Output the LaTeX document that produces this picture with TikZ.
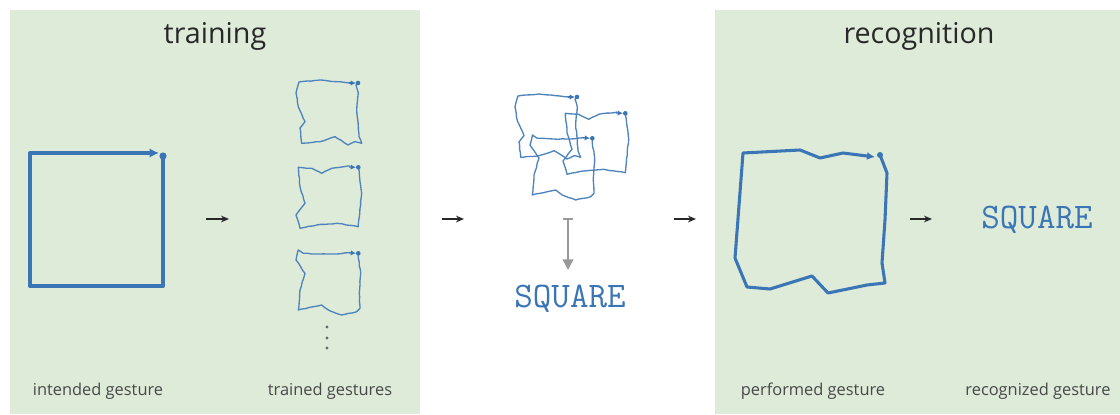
\documentclass[tikz,border=0pt]{standalone}
\usepackage{fontspec}
\setmainfont{Open Sans}
\usetikzlibrary{arrows.meta,decorations.pathmorphing}

\definecolor{panelgreen}{RGB}{222,235,217}
\definecolor{gestblue}{RGB}{58,117,181}
\definecolor{textgray}{RGB}{40,40,40}

\tikzset{
  panel/.style={fill=panelgreen, draw=none},
  title/.style={font=\fontsize{21.5}{24}\selectfont, text=textgray, anchor=base},
  caption/.style={font=\fontsize{12.3}{14}\selectfont, text=textgray!85!white, anchor=base},
  word/.style={font=\ttfamily\fontsize{27}{29}\selectfont, text=gestblue, anchor=base},
  stagearrow/.style={-{Stealth[length=6pt,width=5pt]}, line width=0.9pt, textgray},
  wavy/.style={draw=gestblue!90!white, line width=1pt, line join=round,
    decorate, decoration={random steps, segment length=3pt, amplitude=0.25pt}},
  tip/.style={gestblue, line width=0.9pt, -{Latex[length=4pt,width=4pt]}},
  % the three trained squares, drawn from the start dot
  pics/trainone/.style={code={
    \draw[wavy] (63,3) -- (61,5) -- (63.3,13) -- (61.7,30) -- (64,56.7) -- (66.7,63.3)
      -- (60,61.7) -- (53,65) -- (40,56.7) -- (25,61.7) -- (6.7,63.3)
      -- (5,48) -- (10,41.7) -- (3.3,26.7) -- (1,13) -- (4,2) -- (25,0) -- (41.7,1.7) -- (55,3);
    \draw[tip] (54,3) -- (61,3);
    \fill[gestblue] (63,3) circle (2.3);
  }},
  pics/traintwo/.style={code={
    \draw[wavy] (63.3,2.3) -- (64.3,8.3) -- (66.7,28.3) -- (64.3,51.7) -- (63.3,61.7)
      -- (41.7,58.3) -- (21.7,60) -- (5,63.3) -- (1,50) -- (10,38.3) -- (5,21.7) -- (3.3,2.3)
      -- (16.7,3.3) -- (26.7,8.3) -- (36.7,3.3) -- (55,1);
    \draw[tip] (54,2) -- (61,2.3);
    \fill[gestblue] (63.3,2.3) circle (2.3);
  }},
  pics/trainthree/.style={code={
    \draw[wavy] (63.3,5.3) -- (63.3,10) -- (65.7,25) -- (64.3,45) -- (65,60.3) -- (61.7,63.7)
      -- (46.7,67) -- (33.3,62) -- (26.7,57) -- (18.3,58.7) -- (3.3,62)
      -- (5,42) -- (10,25.3) -- (1,12) -- (3.3,2) -- (8.3,5.3) -- (25,6) -- (41.7,6) -- (55,4.7);
    \draw[tip] (54,4.7) -- (61,5.3);
    \fill[gestblue] (63.3,5.3) circle (2.3);
  }},
}

\begin{document}
\begin{tikzpicture}[x=0.75pt, y=-0.75pt]
  \pgfmathsetseed{11}
  \useasboundingbox (0,0) rectangle (1120,414);

  % Paneles
  \fill[panel] (10,10) rectangle (420,414);
  \fill[panel] (715,10) rectangle (1120,414);

  % Titulos
  \node[title] (trainTitle) at (215,43) {training};
  \node[title] (recogTitle) at (919,43) {recognition};

  % Gesto ideal
  \draw[gestblue, line width=3pt, line join=round, -{Latex[length=7pt,width=7pt]}]
    (163,156) -- (163,286) -- (30,286) -- (30,153) -- (159,153);
  \fill[gestblue] (163,156) circle (3.6);

  % Gestos entrenados
  \pic at (295,80) {trainone};
  \pic at (295,165) {traintwo};
  \pic at (295,248) {trainthree};
  \foreach \y in {327,338,348}
    \fill[textgray!70!white] (327,\y) circle (1.6);

  % Superpuestos
  \pic at (514,94) {trainone};
  \pic at (562,111) {traintwo};
  \pic at (529,133) {trainthree};
  \node[word] (midWord) at (570,307) {SQUARE};
  \coordinate (voteStart) at (568,218);
  \coordinate (voteEnd) at (568,270);
  \draw[black!40, line width=1.2pt, {Bar[width=8pt]}-{Triangle[length=8pt,width=8pt]}] (voteStart) -- (voteEnd);

  % Gesto realizado
  \draw[gestblue, line width=2.3pt, line join=round, -{Latex[length=6pt,width=6pt]}]
    (880,155) -- (887,173) -- (885,220) -- (882,263) -- (885,283) -- (867,285)
    -- (828,293) -- (812,276) -- (770,289) -- (747,287) -- (735,258) -- (743,153)
    -- (800,150) -- (820,158) -- (843,153) -- (875,157);
  \fill[gestblue] (880,155) circle (3);
  \node[word] (endWord) at (1037,228) {SQUARE};

  % Flechas entre etapas
  \coordinate (a1) at (206,219); \coordinate (b1) at (229,219);
  \coordinate (a2) at (442,219); \coordinate (b2) at (464,219);
  \coordinate (a3) at (674,219); \coordinate (b3) at (696,219);
  \coordinate (a4) at (910,219); \coordinate (b4) at (932,219);
  \draw[stagearrow] (a1) -- (b1);
  \draw[stagearrow] (a2) -- (b2);
  \draw[stagearrow] (a3) -- (b3);
  \draw[stagearrow] (a4) -- (b4);

  % Rotulos
  \node[caption] (intended) at (98,395) {intended gesture};
  \node[caption] (trained) at (330,395) {trained gestures};
  \node[caption] (performed) at (813,395) {performed gesture};
  \node[caption] (recognized) at (1038,395) {recognized gesture};
\end{tikzpicture}
\end{document}
